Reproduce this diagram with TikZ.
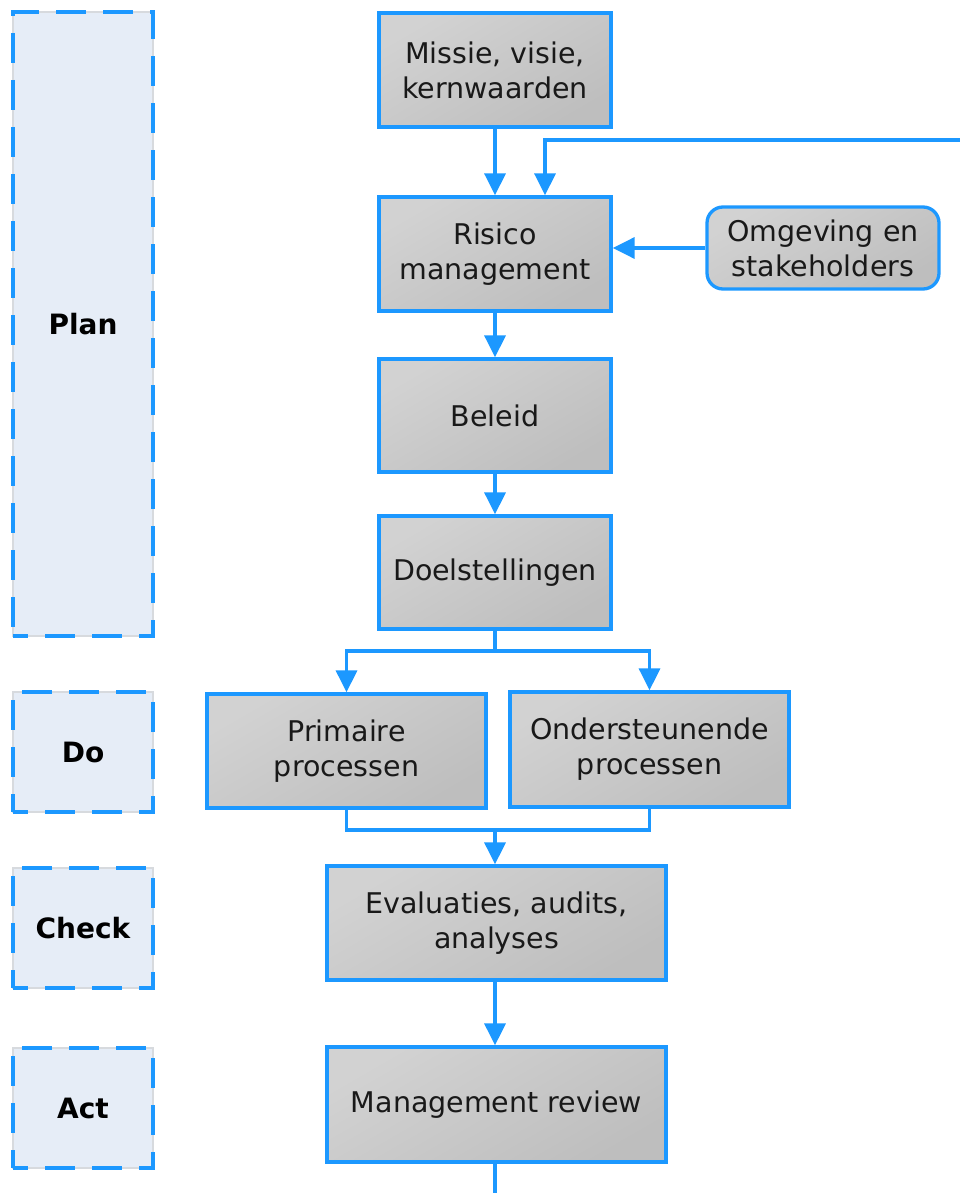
\documentclass[tikz,border=0pt]{standalone}
\usepackage{fontspec}
\setmainfont{DejaVu Sans}
\usetikzlibrary{arrows.meta}
\definecolor{blu}{RGB}{28,152,255}
\definecolor{bxA}{RGB}{210,210,210}
\definecolor{bxB}{RGB}{190,190,190}
\definecolor{phfill}{RGB}{230,237,247}
\definecolor{phedge}{RGB}{215,218,222}
\tikzset{
  box/.style={draw=blu, line width=3.3pt, top color=bxA, bottom color=bxB, shading angle=30, inner sep=0pt, align=center, font=\fontsize{28.5}{35}\selectfont, text=black!90},
  phasebox/.style={draw=phedge, line width=1.2pt, fill=phfill, inner sep=0pt, minimum width=140pt, font=\fontsize{28}{34}\selectfont\bfseries, text=black,
    postaction={draw=blu, line width=4pt, dash pattern=on 30pt off 17pt, dash phase=15pt}},
  line/.style={draw=blu, line width=3.3pt},
  conn/.style={line, -{Triangle[width=21pt,length=22pt]}},
}
\begin{document}
\begin{tikzpicture}[x=1pt,y=-1pt]
\useasboundingbox (0,0) rectangle (960,1193);
% phases
\node[phasebox, minimum height=624pt] (plan) at (83,324) {Plan};
\node[phasebox, minimum height=120pt] (do) at (83,752) {Do};
\node[phasebox, minimum height=120pt] (check) at (83,928) {Check};
\node[phasebox, minimum height=120pt] (act) at (83,1108) {Act};
% boxes
\node[box, minimum width=232pt, minimum height=114pt] (missie) at (495,70) {Missie, visie,\\kernwaarden};
\node[box, minimum width=232pt, minimum height=114pt] (risico) at (495,254) {Risico\\management};
\node[box, minimum width=232pt, minimum height=82pt, rounded corners=16pt] (omg) at (823,248) {Omgeving en\\stakeholders};
\node[box, minimum width=232pt, minimum height=113pt] (beleid) at (495,415.5) {Beleid};
\node[box, minimum width=232pt, minimum height=113pt] (doel) at (495,572.5) {Doelstellingen};
\node[box, minimum width=279pt, minimum height=114pt] (prim) at (346.5,751) {Primaire\\processen};
\node[box, minimum width=279pt, minimum height=115pt] (ond) at (649.5,749.5) {Ondersteunende\\processen};
\node[box, minimum width=339pt, minimum height=114pt] (eval) at (496.5,923) {Evaluaties, audits,\\analyses};
\node[box, minimum width=339pt, minimum height=115pt] (mgmt) at (496.5,1104.5) {Management review};
% connectors
\coordinate (topright) at (960,140);
\coordinate (split) at (495,651);
\coordinate (merge) at (495,830);
\coordinate (botend) at (495,1193);
\draw[conn] (missie.south) -- (risico.north -| missie.south);
\draw[conn] (topright) -- ([xshift=50pt]risico.north |- topright) -- ([xshift=50pt]risico.north);
\draw[conn] (omg.west) -- (risico.east |- omg.west);
\draw[conn] (risico.south -| beleid.north) -- (beleid.north);
\draw[conn] (beleid.south) -- (doel.north);
\draw[line] (doel.south) -- (split);
\draw[conn] (split) -| (prim.north);
\draw[conn] (split) -| (ond.north);
\draw[line] (prim.south) -- (prim.south |- merge) -- (ond.south |- merge) -- (ond.south);
\draw[conn] (merge) -- (eval.north -| merge);
\draw[conn] (eval.south -| merge) -- (mgmt.north -| merge);
\draw[line] (mgmt.south -| merge) -- (botend);
\end{tikzpicture}
\end{document}
